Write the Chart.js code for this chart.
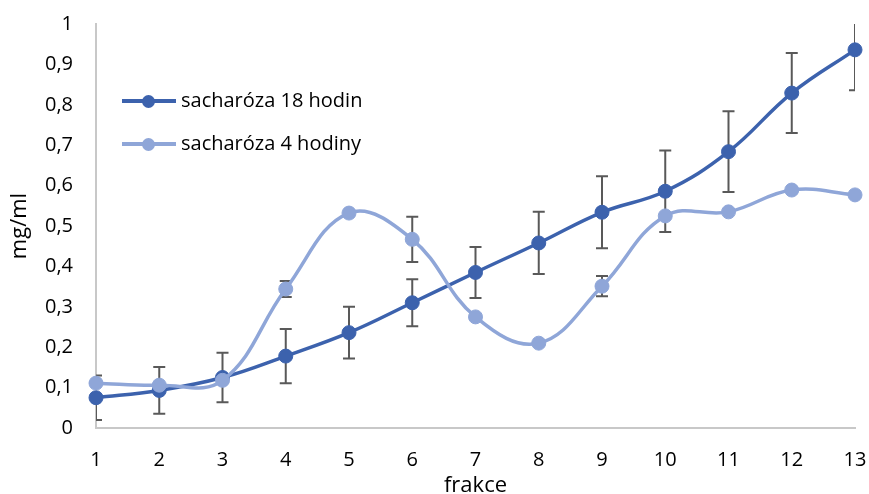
<!DOCTYPE html>
<html>
<head>
<meta charset="utf-8">
<script src="https://cdn.jsdelivr.net/npm/chart.js@4.4.0/dist/chart.umd.min.js"></script>
<style>
    html, body { margin: 0; padding: 0; background: #fff; }
    #wrap { position: relative; width: 869px; height: 494px; }
    #legend { position: absolute; left: 122px; top: 84px; font-family: 'Open Sans', sans-serif; font-size: 20px; color: #000; }
    .item { position: relative; height: 43px; }
    .swatch { position: absolute; left: 0; top: 15px; width: 54px; height: 4px; }
    .dot { position: absolute; left: 20px; top: 11px; width: 13px; height: 13px; border-radius: 50%; }
    .label { position: absolute; left: 59px; top: 1px; white-space: nowrap; line-height: 30px; }
</style>
</head>
<body>
<div id="wrap">
    <canvas id="chart" width="869" height="494"></canvas>
    <div id="legend"></div>
</div>
<script>
// fractions on the x axis
const fractions = ['1', '2', '3', '4', '5', '6', '7', '8', '9', '10', '11', '12', '13'];

// sucrose, 18 hours
const sucrose18 = [0.075, 0.093, 0.125, 0.178, 0.236, 0.310, 0.385, 0.458, 0.534, 0.586, 0.684, 0.829, 0.936];
const sucrose18Err = [0.055, 0.058, 0.061, 0.067, 0.064, 0.058, 0.063, 0.077, 0.089, 0.101, 0.100, 0.099, 0.100];

// sucrose, 4 hours
const sucrose4 = [0.111, 0.106, 0.118, 0.344, 0.532, 0.467, 0.275, 0.210, 0.351, 0.525, 0.535, 0.589, 0.577];
const sucrose4Err = [0, 0, 0, 0.020, 0, 0.056, 0, 0, 0.025, 0, 0, 0, 0];

const yTicks = [0, 0.1, 0.2, 0.3, 0.4, 0.5, 0.6, 0.7, 0.8, 0.9, 1];

const DARK = '#3c62ad';
const LIGHT = '#8fa6d8';

Chart.defaults.font.family = "'Open Sans', sans-serif";
Chart.defaults.color = '#000';

/**
 * Vertical error bars, drawn under the lines and markers.
 */
const errorBars = {
    id: 'errorBars',
    beforeDatasetsDraw(chart) {
        const {ctx, chartArea, scales: {y}} = chart;
        ctx.save();
        ctx.beginPath();
        ctx.rect(chartArea.left, chartArea.top, chartArea.right - chartArea.left, chartArea.bottom - chartArea.top);
        ctx.clip();
        ctx.strokeStyle = '#595959';
        ctx.lineWidth = 2;

        chart.data.datasets.forEach((ds, di) => {
            const meta = chart.getDatasetMeta(di);
            ds.errors.forEach((e, i) => {
                if (!e) return;
                const x = meta.data[i].x;
                const top = y.getPixelForValue(ds.data[i] + e);
                const bottom = y.getPixelForValue(ds.data[i] - e);
                ctx.beginPath();
                ctx.moveTo(x, top);
                ctx.lineTo(x, bottom);
                ctx.moveTo(x - 6, top);
                ctx.lineTo(x + 6, top);
                ctx.moveTo(x - 6, bottom);
                ctx.lineTo(x + 6, bottom);
                ctx.stroke();
            });
        });
        ctx.restore();
    }
};

function series(label, data, errors, color, order) {
    return {
        label: label,
        data: data,
        errors: errors,
        borderColor: color,
        backgroundColor: color,
        pointBackgroundColor: color,
        pointBorderColor: color,
        borderWidth: 3.5,
        pointRadius: 7,
        pointBorderWidth: 1,
        tension: 0.4,
        order: order
    };
}

const datasets = [
    series('sacharóza 18 hodin', sucrose18, sucrose18Err, DARK, 1),
    series('sacharóza 4 hodiny', sucrose4, sucrose4Err, LIGHT, 0)
];

new Chart(document.getElementById('chart'), {
    type: 'line',
    data: { labels: fractions, datasets: datasets },
    plugins: [errorBars],
    options: {
        responsive: false,
        animation: false,
        layout: { padding: { top: 24, right: 14, bottom: 0, left: 0 } },
        plugins: {
            legend: { display: false },
            tooltip: { enabled: false }
        },
        scales: {
            x: {
                grid: { display: false, drawTicks: false },
                border: { display: true, color: '#c8c8c8', width: 2 },
                ticks: { font: { size: 20 }, padding: 20, maxRotation: 0, autoSkip: false },
                title: { display: true, text: 'frakce', font: { size: 22 }, padding: { top: 0, bottom: -5 } },
                afterFit(scale) {
                    scale.height = 66;
                    scale.paddingLeft = 0;
                    scale.paddingRight = 0;
                }
            },
            y: {
                min: 0,
                max: 1,
                grid: { display: false, drawTicks: false },
                border: { display: true, color: '#c8c8c8', width: 2 },
                afterBuildTicks(scale) { scale.ticks = yTicks.map(v => ({ value: v })); },
                ticks: {
                    font: { size: 20 },
                    padding: 23,
                    callback: v => String(Number(v.toFixed(1))).replace('.', ',')
                },
                title: { display: true, text: 'mg/ml', font: { size: 22 }, padding: { top: 7, bottom: 0 } },
                afterFit(scale) {
                    scale.width = 96;
                    scale.paddingTop = 0;
                    scale.paddingBottom = 0;
                }
            }
        }
    }
});

// Legend inside the plot, top left
const legend = document.getElementById('legend');
datasets.forEach(ds => {
    legend.insertAdjacentHTML('beforeend',
        `<div class="item">
            <div class="swatch" style="background:${ds.borderColor}"></div>
            <div class="dot" style="background:${ds.borderColor}"></div>
            <div class="label">${ds.label}</div>
        </div>`);
});
</script>
</body>
</html>
